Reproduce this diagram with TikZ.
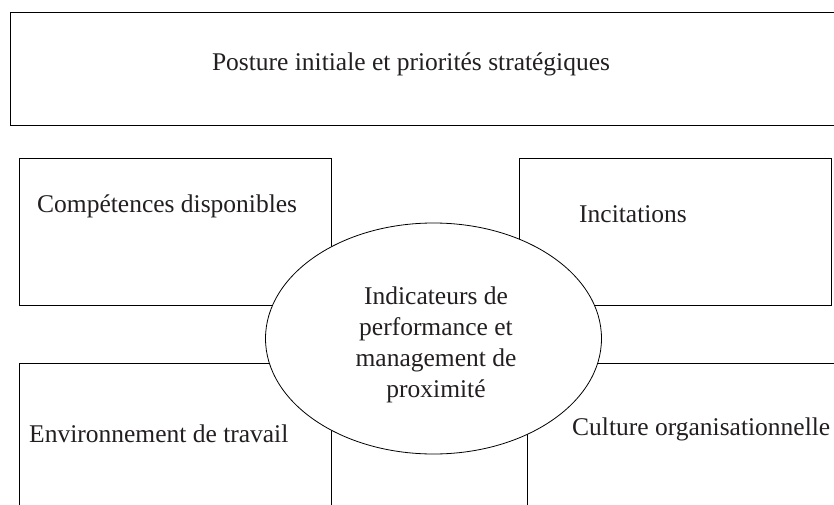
\documentclass[tikz,border=0pt]{standalone}
\usepackage{fontspec}
\setmainfont{Liberation Serif}
\usetikzlibrary{shapes.geometric}
\definecolor{txtgrey}{RGB}{35,31,32}
\begin{document}
\begin{tikzpicture}[x=1pt,y=-1pt,
  box/.style={draw=black,line width=0.8pt,rectangle,inner sep=0pt,anchor=north west},
  oval/.style={draw=black,line width=0.8pt,ellipse,fill=white,inner sep=0pt},
  lbl/.style={text=txtgrey,font=\fontsize{25.5}{31}\selectfont,inner sep=0pt},
]
\clip (0,0) rectangle (834,505);
\fill[white] (0,0) rectangle (834,505);
% boxes
\node[box,line width=1pt,minimum width=840pt,minimum height=113pt] (top) at (10,12) {};
\node[box,minimum width=312pt,minimum height=147pt] (comp) at (19,158) {};
\node[box,minimum width=312pt,minimum height=147pt] (inci) at (519,158) {};
\node[box,minimum width=312pt,minimum height=200pt] (envi) at (19,363) {};
\node[box,minimum width=340pt,minimum height=200pt] (cult) at (527,363) {};
% central ellipse
\node[oval,minimum width=336pt,minimum height=231pt] (ind) at (433.5,338.5) {};
% labels
\node[lbl,anchor=base] (ttop) at (411,71) {Posture initiale et priorités stratégiques};
\node[lbl,anchor=base west] (tcomp) at (37,212) {Compétences disponibles};
\node[lbl,anchor=base west] (tinci) at (579,222) {Incitations};
\node[lbl,anchor=base west] (tenvi) at (29,442) {Environnement de travail};
\node[lbl,anchor=base west] (tcult) at (572,435) {Culture organisationnelle};
\node[lbl,align=center] (tind) at (436,344.5) {Indicateurs de\\performance et\\management de\\proximité};
\end{tikzpicture}
\end{document}
